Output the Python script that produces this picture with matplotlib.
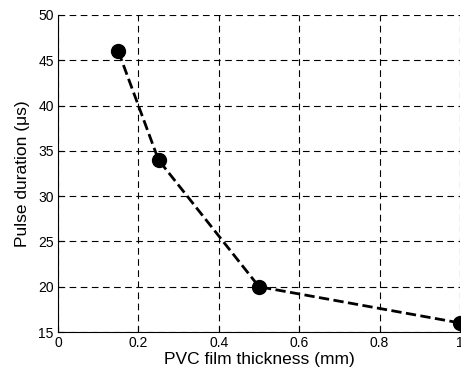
import matplotlib.pyplot as plt

thickness = [0.15, 0.25, 0.5, 1.0]
duration = [46, 34, 20, 16]

plt.rcParams['font.family'] = ['Liberation Sans', 'DejaVu Sans']

fig = plt.figure(figsize=(4.61, 3.76), dpi=100)
ax = fig.add_axes([58 / 461, 44 / 376, 402 / 461, 317 / 376])

ax.plot(thickness, duration, 'k--', lw=2, marker='o', ms=10, clip_on=False, zorder=3)

ax.set_xlim(0, 1)
ax.set_ylim(15, 50)
ax.set_xticks([0, 0.2, 0.4, 0.6, 0.8, 1])
ax.set_xticklabels(['0', '0.2', '0.4', '0.6', '0.8', '1'])
ax.set_yticks(range(15, 51, 5))
ax.grid(True, color='k', linestyle=(0, (6, 4)), linewidth=0.8)
ax.spines['top'].set_visible(False)
ax.spines['right'].set_visible(False)
ax.tick_params(direction='in', labelsize=10, length=4, pad=3)
ax.set_xlabel('PVC film thickness (mm)', fontsize=12.5, labelpad=1)
ax.set_ylabel('Pulse duration (\u03bcs)', fontsize=12.5, labelpad=6)

fig.savefig('out.png', dpi=100)
